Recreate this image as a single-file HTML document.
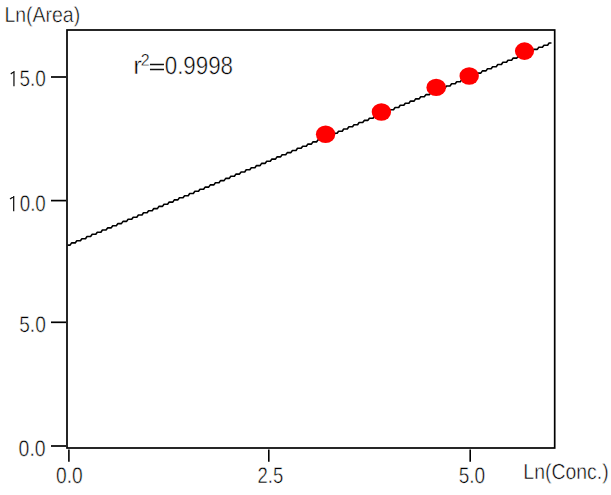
<!DOCTYPE html>
<html>
<head>
<meta charset="utf-8">
<title>Ln(Area) vs Ln(Conc.)</title>
<style>
  html, body { margin: 0; padding: 0; background: #ffffff; }
  body { width: 611px; height: 495px; overflow: hidden; position: relative; }
  svg { position: absolute; left: 0; top: 0; display: block; }
  text { font-family: "Liberation Sans", sans-serif; fill: #000000; stroke: #ffffff; stroke-width: 0.5px; paint-order: fill stroke; }
</style>
</head>
<body>
<svg width="611" height="495" viewBox="0 0 611 495">
  <rect x="0" y="0" width="611" height="495" fill="#ffffff"/>

  <!-- plot frame -->
  <rect x="67" y="30" width="487.7" height="418" fill="none" stroke="#000000" stroke-width="1.7"/>

  <!-- y ticks -->
  <g stroke="#000000" stroke-width="1.7">
    <line x1="51" y1="77" x2="66" y2="77"/>
    <line x1="51" y1="200.6" x2="66" y2="200.6"/>
    <line x1="51" y1="322.3" x2="66" y2="322.3"/>
    <line x1="51" y1="446" x2="66" y2="446"/>
  </g>
  <!-- x ticks -->
  <g stroke="#000000" stroke-width="1.6">
    <line x1="68.9" y1="449.5" x2="68.9" y2="461.7"/>
    <line x1="268.8" y1="449.5" x2="268.8" y2="461.7"/>
    <line x1="470.2" y1="449.5" x2="470.2" y2="461.7"/>
  </g>

  <!-- regression line -->
  <path d="M68.3 245.1 L70.1 245.1 L71.6 242.9 L75.2 242.9 L76.8 240.8 L80.4 240.8 L81.9 238.7 L85.5 238.7 L87.0 236.5 L90.6 236.5 L92.2 234.3 L95.8 234.3 L97.3 232.2 L100.9 232.2 L102.4 230.0 L106.0 230.0 L107.6 227.9 L111.2 227.9 L112.7 225.8 L116.3 225.8 L117.8 223.6 L121.4 223.6 L123.0 221.4 L126.6 221.4 L128.1 219.3 L131.7 219.3 L133.2 217.2 L136.8 217.2 L138.4 215.0 L142.0 215.0 L143.5 212.8 L147.1 212.8 L148.6 210.7 L152.2 210.7 L153.8 208.6 L157.4 208.6 L158.9 206.4 L162.5 206.4 L164.0 204.2 L167.6 204.2 L169.2 202.1 L172.8 202.1 L174.3 199.9 L177.9 199.9 L179.4 197.8 L183.0 197.8 L184.6 195.7 L188.2 195.7 L189.7 193.5 L193.3 193.5 L194.9 191.3 L198.5 191.3 L200.0 189.2 L203.6 189.2 L205.1 187.1 L208.7 187.1 L210.3 184.9 L213.9 184.9 L215.4 182.8 L219.0 182.8 L220.5 180.6 L224.1 180.6 L225.7 178.4 L229.3 178.4 L230.8 176.3 L234.4 176.3 L235.9 174.1 L239.5 174.1 L241.1 172.0 L244.7 172.0 L246.2 169.8 L249.8 169.8 L251.3 167.7 L254.9 167.7 L256.5 165.6 L260.1 165.6 L261.6 163.4 L265.2 163.4 L266.7 161.2 L270.3 161.2 L271.9 159.1 L275.5 159.1 L277.0 156.9 L280.6 156.9 L282.1 154.8 L285.7 154.8 L287.3 152.6 L290.9 152.6 L292.4 150.5 L296.0 150.5 L297.5 148.3 L301.1 148.3 L302.7 146.2 L306.3 146.2 L307.8 144.1 L311.4 144.1 L312.9 141.9 L316.5 141.9 L318.1 139.8 L321.7 139.8 L323.2 137.6 L326.8 137.6 L328.3 135.4 L331.9 135.4 L333.5 133.3 L337.1 133.3 L338.6 131.2 L342.2 131.2 L343.7 129.0 L347.3 129.0 L348.9 126.8 L352.5 126.8 L354.0 124.7 L357.6 124.7 L359.1 122.5 L362.7 122.5 L364.3 120.4 L367.9 120.4 L369.4 118.2 L373.0 118.2 L374.5 116.1 L378.1 116.1 L379.7 113.9 L383.3 113.9 L384.8 111.8 L388.4 111.8 L389.9 109.7 L393.5 109.7 L395.1 107.5 L398.7 107.5 L400.2 105.3 L403.8 105.3 L405.3 103.2 L408.9 103.2 L410.5 101.1 L414.1 101.1 L415.6 98.9 L419.2 98.9 L420.7 96.8 L424.3 96.8 L425.9 94.6 L429.5 94.6 L431.0 92.4 L434.6 92.4 L436.2 90.3 L439.8 90.3 L441.3 88.2 L444.9 88.2 L446.4 86.0 L450.0 86.0 L451.6 83.8 L455.2 83.8 L456.7 81.7 L460.3 81.7 L461.8 79.6 L465.4 79.6 L467.0 77.4 L470.6 77.4 L472.1 75.2 L475.7 75.2 L477.2 73.1 L480.8 73.1 L482.4 70.9 L486.0 70.9 L487.5 68.8 L491.1 68.8 L492.6 66.7 L496.2 66.7 L497.8 64.5 L501.4 64.5 L502.9 62.3 L506.5 62.3 L508.0 60.2 L511.6 60.2 L513.2 58.1 L516.8 58.1 L518.3 55.9 L521.9 55.9 L523.4 53.8 L527.0 53.8 L528.6 51.6 L532.2 51.6 L533.7 49.4 L537.3 49.4 L538.8 47.3 L542.4 47.3 L544.0 45.2 L547.6 45.2 L549.1 43.0 L550.9 43.0" fill="none" stroke="#000000" stroke-width="1.6" stroke-linejoin="round" stroke-linecap="round"/>

  <!-- data points -->
  <g fill="#ff0000">
    <ellipse cx="325.6" cy="134.3" rx="9.7" ry="8.8"/>
    <ellipse cx="381.4" cy="112" rx="9.7" ry="8.8"/>
    <ellipse cx="436.2" cy="87.4" rx="9.8" ry="8.7"/>
    <ellipse cx="469.2" cy="76" rx="9.7" ry="8.8"/>
    <ellipse cx="524.5" cy="51.1" rx="9.6" ry="8.8"/>
  </g>

  <!-- labels -->
  <g id="labels" transform="rotate(0.03)">
  <text id="t_area" x="4.44" y="22.1" font-size="21.8" textLength="75.74" lengthAdjust="spacingAndGlyphs">Ln(Area)</text>
  <text id="t_conc" x="523.63" y="478.8" font-size="21.8" textLength="85.32" lengthAdjust="spacingAndGlyphs">Ln(Conc.)</text>

  <path d="M10.8 74.0 L14 71.6 M14 71.0 L14 86.2" fill="none" stroke="#111111" stroke-width="1.25"/>
  <text id="t_y15" x="19.44" y="86.4" font-size="22.5" textLength="26.39" lengthAdjust="spacingAndGlyphs">5.0</text>
  <path d="M10.1 199.0 L13.8 196.6 M13.8 196.0 L13.8 211.2" fill="none" stroke="#111111" stroke-width="1.25"/>
  <text id="t_y10" x="19.83" y="211.4" font-size="22.5" textLength="26.02" lengthAdjust="spacingAndGlyphs">0.0</text>
  <text id="t_y5" x="19.37" y="332" font-size="22.5" textLength="26.57" lengthAdjust="spacingAndGlyphs">5.0</text>
  <text id="t_y0" x="18.86" y="456.1" font-size="22.5" textLength="27.01" lengthAdjust="spacingAndGlyphs">0.0</text>

  <text id="t_x0" x="56.39" y="483.3" font-size="22.5" textLength="26.66" lengthAdjust="spacingAndGlyphs">0.0</text>
  <text id="t_x25" x="257.72" y="483.2" font-size="22.5" textLength="25.71" lengthAdjust="spacingAndGlyphs">2.5</text>
  <text id="t_x5" x="458.94" y="483.2" font-size="22.5" textLength="26.53" lengthAdjust="spacingAndGlyphs">5.0</text>

  <!-- r^2 -->
  <text id="t_r" x="133.3" y="73.9" font-size="25.2" textLength="8.7" lengthAdjust="spacingAndGlyphs">r</text>
  <text id="t_sup" style="stroke-width:0.35px" x="140.9" y="65.7" font-size="17" textLength="8.9" lengthAdjust="spacingAndGlyphs">2</text>
  <g stroke="#111111" stroke-width="1.5"><line x1="150" y1="64.4" x2="164" y2="64.4"/><line x1="150" y1="69.4" x2="164" y2="69.4"/></g>
  <text id="t_val" x="164.75" y="73.9" font-size="25.2" textLength="68.34" lengthAdjust="spacingAndGlyphs">0.9998</text>
  </g>
</svg>
</body>
</html>
